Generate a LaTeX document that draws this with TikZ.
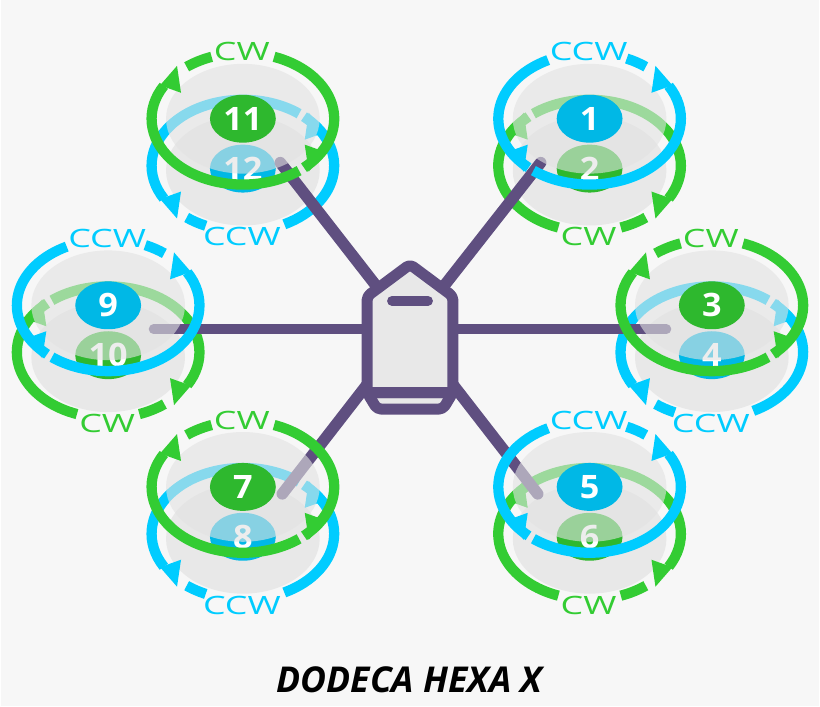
\documentclass[tikz,border=0pt]{standalone}
\usepackage{graphicx}
\usepackage{color}
\usepackage{fontspec}
\setmainfont{Open Sans}
\usepackage{tikz}

\definecolor{pagebg}{HTML}{F7F7F7}
\definecolor{discgrey}{HTML}{E8E8E8}
\definecolor{covergrey}{HTML}{E2E2E2}
\definecolor{ringgreen}{HTML}{33CC33}
\definecolor{darkgreen}{HTML}{2EB82E}
\definecolor{ringblue}{HTML}{00CCFF}
\definecolor{darkblue}{HTML}{00B8E6}
\definecolor{framepurple}{HTML}{5F4F80}

\tikzset{
	ringline/.style={line width=0.103cm},
	rotordisc/.style={fill=discgrey},
	coverdisc/.style={fill=covergrey, fill opacity=0.6},
	turnlabel/.style={inner sep=0pt, font=\fontsize{7.2pt}{8pt}\selectfont},
	numlabel/.style={inner sep=0pt, text=white, font=\fontsize{9.2pt}{10pt}\selectfont\bfseries},
	framepart/.style={line width=0.097cm, color=framepurple, line cap=round},
	slantarm/.style={framepart, line width=0.115cm},
	hubline/.style={line width=0.11cm, color=framepurple, line join=round, rounded corners=0.04cm}
}

% ring around (x,y): x scale, y scale, colour, end of dash, start of arc
\newcommand{\rotorring}[7]{
	\begin{scope}[shift={(#1,#2)}, xscale=#3, yscale=#4]
		\draw [ringline, #5] (#7:0.915 and 0.66) arc [start angle=#7, end angle=228, x radius=0.915, y radius=0.66];
		\draw [ringline, #5] (232:0.915 and 0.66) arc [start angle=232, end angle=390, x radius=0.915, y radius=0.66];
		\draw [ringline, #5] (52:0.915 and 0.66) arc [start angle=52, end angle=#6, x radius=0.915, y radius=0.66];
		\fill [#5] (0.66,0.53) -- (0.62,0.26) -- (0.83,0.335) -- cycle;
		\fill [#5] (-0.66,-0.53) -- (-0.62,-0.26) -- (-0.83,-0.335) -- cycle;
	\end{scope}
}

% lower half of a rotor: x, y, ring colour, ellipse colour, number, x scale, end of dash, start of arc, text
\newcommand{\lowerhalf}[9]{
	\fill [rotordisc] (#1,#2-0.52) ellipse [x radius=0.77, y radius=0.55];
	\rotorring{#1}{#2-0.47}{#6}{-1}{#3}{#7}{#8}
	\fill [#4] (#1,#2-0.50) ellipse [x radius=0.33, y radius=0.24];
	\node [numlabel] (n#5) at (#1,#2-0.50) {\scalebox{1.06}[1]{#5}};
	\node [turnlabel, text=#3] (t#5) at (#1-0.01,#2-1.185) {\scalebox{1.42}[1]{#9}};
}

% upper half of a rotor, same arguments
\newcommand{\upperhalf}[9]{
	\fill [coverdisc] (#1,#2) ellipse [x radius=0.77, y radius=0.55];
	\rotorring{#1}{#2}{#6}{1}{#3}{#7}{#8}
	\fill [#4] (#1,#2) ellipse [x radius=0.33, y radius=0.24];
	\node [numlabel] (n#5) at (#1,#2) {\scalebox{1.06}[1]{#5}};
	\node [turnlabel, text=#3] (t#5) at (#1-0.01,#2+0.67) {\scalebox{1.42}[1]{#9}};
}

\newcommand{\cwlower}[3]{\lowerhalf{#1}{#2}{ringgreen}{darkgreen}{#3}{1}{70}{110}{CW}}
\newcommand{\ccwlower}[3]{\lowerhalf{#1}{#2}{ringblue}{darkblue}{#3}{-1}{66}{117}{CCW}}
\newcommand{\cwupper}[3]{\upperhalf{#1}{#2}{ringgreen}{darkgreen}{#3}{-1}{70}{110}{CW}}
\newcommand{\ccwupper}[3]{\upperhalf{#1}{#2}{ringblue}{darkblue}{#3}{1}{66}{117}{CCW}}

\begin{document}
\begin{tikzpicture}
	\fill [pagebg] (0,0) rectangle (8.2,7.08);

	% lower rotors
	\ccwlower{2.425}{5.89}{12}
	\cwlower{5.90}{5.89}{2}
	\cwlower{1.075}{4.02}{10}
	\ccwlower{7.125}{4.02}{4}
	\ccwlower{2.425}{2.20}{8}
	\cwlower{5.90}{2.20}{6}

	% arms
	\coordinate (hub) at (4.10,3.78);
	\coordinate (armtl) at (2.80,5.45);
	\coordinate (armtr) at (5.41,5.45);
	\coordinate (arml) at (1.53,3.78);
	\coordinate (armr) at (6.67,3.78);
	\coordinate (armbl) at (2.82,2.13);
	\coordinate (armbr) at (5.38,2.13);
	\draw [slantarm] (hub) -- (armtl);
	\draw [slantarm] (hub) -- (armtr);
	\draw [framepart] (hub) -- (arml);
	\draw [framepart] (hub) -- (armr);
	\draw [slantarm] (hub) -- (armbl);
	\draw [slantarm] (hub) -- (armbr);

	% hub
	\draw [hubline, fill=discgrey] (3.67,3.145) -- (3.77,2.98) -- (4.43,2.98) -- (4.53,3.145) -- cycle;
	\draw [hubline, fill=discgrey] (3.67,3.145) -- (3.67,4.11) -- (4.10,4.43) -- (4.53,4.11) -- (4.53,3.145) -- cycle;
	\draw [framepart, line width=0.1cm] (3.92,4.065) -- (4.28,4.065);

	% upper rotors
	\cwupper{2.425}{5.89}{11}
	\ccwupper{5.90}{5.89}{1}
	\ccwupper{1.075}{4.02}{9}
	\cwupper{7.125}{4.02}{3}
	\cwupper{2.425}{2.20}{7}
	\ccwupper{5.90}{2.20}{5}

	\node [inner sep=0pt, font=\fontsize{10.15pt}{12pt}\selectfont\bfseries\itshape] (title) at (4.095,0.265) {DODECA HEXA X};
\end{tikzpicture}
\end{document}
